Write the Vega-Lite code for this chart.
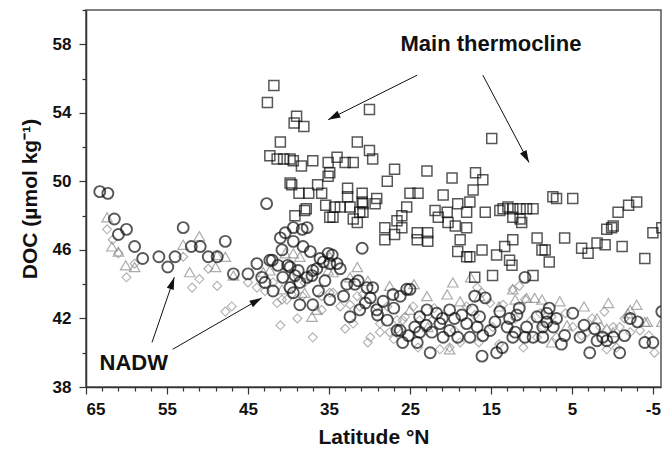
{
  "$schema": "https://vega.github.io/schema/vega-lite/v6.json",
  "width": 575,
  "height": 377,
  "autosize": {"type": "none"},
  "padding": {"left": 86, "top": 10, "right": 3, "bottom": 64},
  "config": {
    "font": "Liberation Sans",
    "view": {"stroke": "#555", "strokeWidth": 1.5},
    "axis": {
      "grid": false,
      "domainColor": "#333",
      "domainWidth": 1.5,
      "tickColor": "#333",
      "tickWidth": 1.2,
      "labelFontSize": 17,
      "labelFontWeight": "bold",
      "labelColor": "#111",
      "titleFontSize": 21,
      "titleFontWeight": "bold",
      "titleColor": "#111"
    }
  },
  "datasets": {
    "squares": [
      {"lat":42.6,"doc":54.6},{"lat":41.8,"doc":55.6},{"lat":41.0,"doc":52.3},{"lat":42.3,"doc":51.5},{"lat":41.4,"doc":51.3},{"lat":40.6,"doc":51.3},{"lat":39.8,"doc":51.3},{"lat":39.4,"doc":51.2},{"lat":39.0,"doc":53.8},{"lat":39.3,"doc":53.4},{"lat":38.1,"doc":53.2},{"lat":38.4,"doc":50.9},{"lat":37.0,"doc":51.2},{"lat":39.8,"doc":49.9},{"lat":39.6,"doc":49.8},{"lat":38.7,"doc":49.3},{"lat":37.5,"doc":49.3},{"lat":36.4,"doc":49.8},{"lat":35.9,"doc":49.3},{"lat":35.1,"doc":51.1},{"lat":39.2,"doc":48.0},{"lat":37.8,"doc":48.4},{"lat":35.1,"doc":50.3},{"lat":35.4,"doc":48.6},{"lat":30.0,"doc":54.2},{"lat":31.5,"doc":52.3},{"lat":30.0,"doc":51.8},{"lat":34.0,"doc":51.4},{"lat":33.0,"doc":51.1},{"lat":32.0,"doc":51.1},{"lat":29.6,"doc":51.3},{"lat":34.9,"doc":50.5},{"lat":32.7,"doc":49.6},{"lat":32.7,"doc":49.1},{"lat":30.9,"doc":49.3},{"lat":30.9,"doc":48.8},{"lat":29.1,"doc":49.0},{"lat":27.8,"doc":50.0},{"lat":34.3,"doc":48.5},{"lat":33.6,"doc":48.5},{"lat":32.4,"doc":48.5},{"lat":31.2,"doc":48.2},{"lat":38.0,"doc":48.3},{"lat":34.9,"doc":47.9},{"lat":31.5,"doc":47.6},{"lat":14.9,"doc":52.5},{"lat":26.9,"doc":50.7},{"lat":22.9,"doc":50.6},{"lat":19.8,"doc":50.2},{"lat":16.9,"doc":50.5},{"lat":16.0,"doc":50.1},{"lat":25.0,"doc":49.3},{"lat":24.0,"doc":49.3},{"lat":20.9,"doc":49.2},{"lat":19.1,"doc":48.7},{"lat":17.6,"doc":48.8},{"lat":17.2,"doc":49.5},{"lat":7.35,"doc":49.1},{"lat":6.9,"doc":49.0},{"lat":4.9,"doc":49.0},{"lat":30.8,"doc":48.7},{"lat":29.3,"doc":48.7},{"lat":34.5,"doc":47.9},{"lat":32.0,"doc":47.8},{"lat":30.8,"doc":48.2},{"lat":25.4,"doc":48.5},{"lat":26.0,"doc":48.0},{"lat":26.6,"doc":47.7},{"lat":21.9,"doc":48.3},{"lat":21.5,"doc":47.9},{"lat":20.4,"doc":48.2},{"lat":20.3,"doc":47.6},{"lat":19.4,"doc":47.4},{"lat":18.0,"doc":48.2},{"lat":28.1,"doc":47.3},{"lat":26.9,"doc":46.9},{"lat":28.1,"doc":46.6},{"lat":26.0,"doc":47.3},{"lat":24.1,"doc":47.0},{"lat":22.8,"doc":47.0},{"lat":24.1,"doc":46.6},{"lat":22.8,"doc":46.5},{"lat":18.8,"doc":46.6},{"lat":17.6,"doc":45.6},{"lat":16.1,"doc":46.0},{"lat":19.1,"doc":45.9},{"lat":18.0,"doc":45.6},{"lat":15.7,"doc":48.2},{"lat":13.5,"doc":48.4},{"lat":12.9,"doc":48.5},{"lat":12.3,"doc":48.4},{"lat":11.4,"doc":48.4},{"lat":10.6,"doc":48.4},{"lat":9.8,"doc":48.4},{"lat":12.3,"doc":47.9},{"lat":11.4,"doc":47.8},{"lat":11.2,"doc":47.6},{"lat":14.3,"doc":45.7},{"lat":12.3,"doc":46.6},{"lat":13.3,"doc":46.2},{"lat":12.4,"doc":45.1},{"lat":17.0,"doc":44.4},{"lat":14.8,"doc":44.5},{"lat":9.8,"doc":44.5},{"lat":9.3,"doc":46.7},{"lat":8.7,"doc":46.0},{"lat":8.3,"doc":46.0},{"lat":7.8,"doc":45.3},{"lat":5.9,"doc":46.7},{"lat":3.8,"doc":46.1},{"lat":3.0,"doc":45.8},{"lat":1.9,"doc":46.4},{"lat":0.9,"doc":46.3},{"lat":0.7,"doc":47.2},{"lat":0.1,"doc":47.3},{"lat":-0.1,"doc":47.4},{"lat":-0.7,"doc":48.2},{"lat":-2.0,"doc":48.6},{"lat":-3.0,"doc":48.8},{"lat":-1.2,"doc":46.2},{"lat":-4.0,"doc":45.5},{"lat":-5.0,"doc":47.0},{"lat":-6.1,"doc":47.3},{"lat":18.0,"doc":47.3},{"lat":12.7,"doc":45.4},{"lat":13.9,"doc":48.3}
    ],
    "circles": [
      {"lat":63.3,"doc":49.4},{"lat":62.3,"doc":49.3},{"lat":61.5,"doc":47.8},{"lat":61.0,"doc":46.9},{"lat":60.0,"doc":47.2},{"lat":59.0,"doc":46.2},{"lat":58.0,"doc":45.5},{"lat":56.0,"doc":45.6},{"lat":54.9,"doc":45.0},{"lat":54.0,"doc":45.6},{"lat":53.0,"doc":47.3},{"lat":52.0,"doc":46.2},{"lat":50.9,"doc":46.2},{"lat":49.9,"doc":45.6},{"lat":48.8,"doc":45.6},{"lat":47.8,"doc":46.5},{"lat":46.8,"doc":44.6},{"lat":45.0,"doc":44.6},{"lat":43.9,"doc":45.2},{"lat":42.9,"doc":44.1},{"lat":42.7,"doc":48.7},{"lat":41.9,"doc":43.6},{"lat":42.0,"doc":45.4},{"lat":41.0,"doc":46.7},{"lat":40.4,"doc":47.0},{"lat":39.4,"doc":47.3},{"lat":39.4,"doc":46.5},{"lat":38.3,"doc":47.2},{"lat":37.7,"doc":47.3},{"lat":37.3,"doc":45.9},{"lat":36.1,"doc":45.5},{"lat":39.8,"doc":45.0},{"lat":38.8,"doc":44.8},{"lat":39.8,"doc":43.8},{"lat":39.4,"doc":43.5},{"lat":38.6,"doc":42.8},{"lat":37.0,"doc":42.8},{"lat":37.7,"doc":44.4},{"lat":36.5,"doc":44.9},{"lat":35.5,"doc":44.2},{"lat":35.1,"doc":45.8},
      {"lat":30.9,"doc":46.1},{"lat":42.3,"doc":45.4},{"lat":41.3,"doc":45.1},{"lat":40.1,"doc":45.1},{"lat":39.2,"doc":44.5},{"lat":34.6,"doc":45.7},{"lat":34.9,"doc":45.2},{"lat":38.6,"doc":44.1},{"lat":37.1,"doc":44.5},{"lat":33.6,"doc":44.9},{"lat":32.8,"doc":44.0},{"lat":31.4,"doc":44.2},{"lat":30.3,"doc":43.8},{"lat":29.6,"doc":43.8},{"lat":29.9,"doc":43.2},{"lat":28.3,"doc":43.0},{"lat":27.1,"doc":43.4},{"lat":25.4,"doc":43.7},{"lat":29.0,"doc":42.2},{"lat":27.8,"doc":41.9},{"lat":32.4,"doc":42.1},{"lat":31.2,"doc":42.5},{"lat":26.6,"doc":41.3},{"lat":25.9,"doc":40.6},{"lat":40.7,"doc":44.4},{"lat":43.3,"doc":44.4},{"lat":37.0,"doc":44.8},
      {"lat":35.7,"doc":45.3},{"lat":34.0,"doc":45.2},{"lat":31.8,"doc":44.0},{"lat":25.0,"doc":43.7},{"lat":22.9,"doc":42.5},{"lat":26.2,"doc":41.3},{"lat":25.2,"doc":41.0},{"lat":23.8,"doc":41.2},{"lat":24.1,"doc":40.6},{"lat":22.5,"doc":40.0},{"lat":29.1,"doc":42.5},{"lat":34.9,"doc":43.1},{"lat":26.2,"doc":43.3},
      {"lat":21.7,"doc":42.3},{"lat":20.1,"doc":42.5},{"lat":18.6,"doc":42.2},{"lat":17.3,"doc":42.5},{"lat":16.4,"doc":42.1},{"lat":15.1,"doc":41.3},{"lat":13.9,"doc":42.4},{"lat":12.7,"doc":42.0},{"lat":11.8,"doc":42.2},{"lat":10.6,"doc":41.5},{"lat":9.3,"doc":42.1},{"lat":8.1,"doc":42.3},{"lat":6.9,"doc":42.0},{"lat":4.9,"doc":42.3},{"lat":24.4,"doc":41.5},{"lat":20.9,"doc":40.9},{"lat":20.1,"doc":41.3},{"lat":19.1,"doc":40.9},{"lat":17.6,"doc":40.9},{"lat":16.1,"doc":39.8},{"lat":14.3,"doc":40.0},{"lat":13.6,"doc":40.3},{"lat":12.3,"doc":40.9},{"lat":10.8,"doc":40.9},{"lat":9.8,"doc":40.9},{"lat":8.6,"doc":40.9},{"lat":7.3,"doc":41.5},{"lat":5.9,"doc":41.0},{"lat":4.0,"doc":40.9},{"lat":2.8,"doc":40.0},{"lat":1.9,"doc":40.7},{"lat":0.7,"doc":40.7},{"lat":-0.1,"doc":40.9},{"lat":-0.9,"doc":40.0},{"lat":-2.2,"doc":42.0},{"lat":-3.1,"doc":41.8},{"lat":-4.0,"doc":40.6},{"lat":-5.0,"doc":40.6},{"lat":-6.1,"doc":42.4},{"lat":17.0,"doc":43.3},{"lat":15.7,"doc":43.2},{"lat":10.8,"doc":44.4},{"lat":16.7,"doc":41.5},{"lat":21.3,"doc":41.7},{"lat":22.3,"doc":41.2},{"lat":18.0,"doc":41.7},{"lat":13.0,"doc":41.5},{"lat":23.8,"doc":42.1},{"lat":8.1,"doc":41.8},{"lat":1.2,"doc":40.9},{"lat":8.6,"doc":41.5},
      {"lat":19.5,"doc":42.0},{"lat":14.5,"doc":41.8},{"lat":11.5,"doc":42.6},{"lat":7.8,"doc":42.6},{"lat":3.5,"doc":41.6},{"lat":2.2,"doc":41.4},{"lat":-1.5,"doc":41.0},{"lat":23.0,"doc":41.6},{"lat":21.0,"doc":42.0},{"lat":16.0,"doc":41.0},{"lat":12.0,"doc":41.2},{"lat":6.3,"doc":40.5},{"lat":27.0,"doc":42.6},{"lat":30.5,"doc":42.9},{"lat":33.2,"doc":43.3},{"lat":36.3,"doc":43.6},{"lat":38.2,"doc":46.2},{"lat":40.8,"doc":46.0}
    ],
    "triangles": [
      {"lat":62.4,"doc":47.9},{"lat":61.8,"doc":46.2},{"lat":61.0,"doc":45.9},{"lat":60.1,"doc":45.1},{"lat":59.0,"doc":45.0},{"lat":53.0,"doc":46.3},{"lat":52.2,"doc":44.7},{"lat":51.0,"doc":46.8},{"lat":48.8,"doc":45.7},{"lat":47.8,"doc":45.6},{"lat":46.8,"doc":44.5},{"lat":40.4,"doc":45.8},{"lat":39.4,"doc":45.8},{"lat":39.6,"doc":44.4},{"lat":38.6,"doc":45.6},{"lat":35.1,"doc":44.8},{"lat":31.5,"doc":45.0},{"lat":32.4,"doc":44.4},{"lat":30.2,"doc":44.2},{"lat":40.8,"doc":43.7},{"lat":37.1,"doc":42.1},{"lat":36.5,"doc":42.5},{"lat":38.0,"doc":43.5},{"lat":42.3,"doc":44.8},{"lat":43.1,"doc":44.7},{"lat":34.5,"doc":44.7},{"lat":22.9,"doc":43.3},{"lat":25.0,"doc":42.5},{"lat":22.8,"doc":41.5},{"lat":19.7,"doc":44.1},{"lat":20.4,"doc":43.4},{"lat":18.8,"doc":43.0},{"lat":16.4,"doc":43.3},{"lat":12.0,"doc":43.1},{"lat":9.6,"doc":43.2},{"lat":1.9,"doc":42.0},{"lat":-2.2,"doc":42.5},{"lat":-4.3,"doc":41.8},{"lat":-6.1,"doc":41.8},{"lat":5.6,"doc":41.6},{"lat":0.7,"doc":41.4},{"lat":-0.1,"doc":41.2},{"lat":20.1,"doc":40.2},{"lat":8.7,"doc":43.1},{"lat":7.5,"doc":40.6},{"lat":49.0,"doc":45.0},{"lat":34.9,"doc":45.6},{"lat":12.3,"doc":43.7},{"lat":10.6,"doc":43.2},{"lat":-1.9,"doc":42.3},{"lat":-4.0,"doc":41.8},
      {"lat":14.0,"doc":42.7},{"lat":6.5,"doc":43.0},{"lat":3.5,"doc":42.7},{"lat":-3.0,"doc":42.8},{"lat":27.5,"doc":43.9},{"lat":24.5,"doc":44.0},{"lat":17.5,"doc":44.4},{"lat":0.5,"doc":42.9}
    ],
    "diamonds": [
      {"lat":62.4,"doc":47.2},{"lat":61.7,"doc":46.6},{"lat":61.0,"doc":45.8},{"lat":60.0,"doc":44.4},{"lat":59.0,"doc":45.2},{"lat":53.0,"doc":45.6},{"lat":51.9,"doc":43.8},{"lat":51.0,"doc":44.3},{"lat":49.9,"doc":44.9},{"lat":48.8,"doc":43.9},{"lat":47.8,"doc":42.4},{"lat":47.0,"doc":42.7},{"lat":45.0,"doc":44.1},{"lat":43.9,"doc":43.8},{"lat":42.9,"doc":43.6},{"lat":41.0,"doc":41.6},{"lat":38.9,"doc":42.0},{"lat":37.0,"doc":40.9},{"lat":41.4,"doc":42.9},{"lat":40.2,"doc":43.1},{"lat":41.9,"doc":44.1},{"lat":40.8,"doc":43.1},{"lat":39.6,"doc":43.4},{"lat":38.0,"doc":44.1},{"lat":33.0,"doc":41.4},{"lat":33.6,"doc":42.7},{"lat":32.4,"doc":42.8},{"lat":34.9,"doc":43.5},{"lat":31.5,"doc":43.3},{"lat":29.1,"doc":42.7},{"lat":27.8,"doc":42.7},{"lat":29.9,"doc":40.9},{"lat":28.7,"doc":41.2},{"lat":26.6,"doc":41.9},{"lat":35.9,"doc":43.3},{"lat":38.3,"doc":43.3},{"lat":30.2,"doc":40.6},{"lat":26.6,"doc":41.4},{"lat":35.9,"doc":42.5},{"lat":31.2,"doc":42.7},{"lat":28.7,"doc":41.7},{"lat":25.9,"doc":41.9},{"lat":32.0,"doc":41.7},{"lat":27.5,"doc":41.2},{"lat":23.8,"doc":41.9},{"lat":34.5,"doc":43.5},{"lat":30.8,"doc":43.4},{"lat":16.1,"doc":43.5},{"lat":15.1,"doc":42.9},{"lat":12.3,"doc":43.7},{"lat":10.8,"doc":43.1},{"lat":8.9,"doc":42.3},{"lat":21.3,"doc":40.2},{"lat":20.1,"doc":40.3},{"lat":18.8,"doc":40.6},{"lat":11.0,"doc":40.3},{"lat":8.6,"doc":41.5},{"lat":6.9,"doc":40.9},{"lat":4.9,"doc":41.5},{"lat":3.1,"doc":41.2},{"lat":1.5,"doc":41.5},{"lat":-0.1,"doc":41.5},{"lat":-2.2,"doc":41.2},{"lat":-3.4,"doc":41.3},{"lat":-5.2,"doc":40.0},{"lat":24.6,"doc":42.7},{"lat":25.6,"doc":42.1},{"lat":18.0,"doc":42.7},{"lat":22.2,"doc":41.9},{"lat":14.8,"doc":41.5},{"lat":9.3,"doc":40.9},{"lat":3.8,"doc":41.0},{"lat":0.7,"doc":40.2},{"lat":-0.9,"doc":41.5},{"lat":-0.5,"doc":40.3},{"lat":16.7,"doc":43.8},{"lat":11.5,"doc":43.9},
      {"lat":22.0,"doc":42.6},{"lat":19.5,"doc":41.3},{"lat":17.0,"doc":42.2},{"lat":13.5,"doc":42.8},{"lat":12.0,"doc":42.0},{"lat":10.0,"doc":41.9},{"lat":7.5,"doc":42.1},{"lat":5.8,"doc":42.3},{"lat":2.5,"doc":42.0},{"lat":1.0,"doc":42.4},{"lat":-1.5,"doc":42.0},{"lat":-4.5,"doc":41.0},{"lat":14.0,"doc":40.5},{"lat":16.5,"doc":40.6},{"lat":27.0,"doc":40.8},{"lat":24.0,"doc":40.3}
    ],
    "labels": [
      {"lat":15.0,"doc":58.0,"text":"Main thermocline"},
      {"lat":59.1,"doc":39.4,"text":"NADW"}
    ],
    "arrows": [
      {"id":"a","lat":24.1,"doc":56.2,"lat2":35.1,"doc2":53.6},
      {"id":"b","lat":16.0,"doc":56.2,"lat2":10.3,"doc2":51.1},
      {"id":"c","lat":56.85,"doc":40.6,"lat2":54.1,"doc2":44.4},
      {"id":"d","lat":54.3,"doc":40.2,"lat2":43.3,"doc2":43.2}
    ]
  },
  "encoding": {
    "x": {
      "field": "lat", "type": "quantitative",
      "scale": {"domain": [65, -6], "nice": false, "zero": false},
      "axis": {
        "title": "Latitude °N",
        "values": [65,63,61,59,57,55,53,51,49,47,45,43,41,39,37,35,33,31,29,27,25,23,21,19,17,15,13,11,9,7,5,3,1,-1,-3,-5],
        "labelExpr": "(65 - datum.value) % 10 == 0 ? ('' + datum.value) : ''",
        "tickSize": {"condition": {"test": "(65 - datum.value) % 10 == 0", "value": 7}, "value": 4},
        "labelPadding": 7,
        "titlePadding": 9
      }
    },
    "y": {
      "field": "doc", "type": "quantitative",
      "scale": {"domain": [38, 60], "nice": false, "zero": false},
      "axis": {
        "title": "DOC (µmol kg⁻¹)",
        "values": [38,40,42,44,46,48,50,52,54,56,58,60],
        "labelExpr": "datum.value % 4 == 2 && datum.value < 60 ? ('' + datum.value) : ''",
        "tickSize": {"condition": {"test": "datum.value % 4 == 2", "value": 7}, "value": 4},
        "labelPadding": 8,
        "titlePadding": 12
      }
    }
  },
  "layer": [
    {"data": {"name": "diamonds"}, "mark": {"type": "point", "shape": "diamond", "size": 81, "filled": false, "stroke": "#8f8f8f", "strokeWidth": 1.1, "clip": true}},
    {"data": {"name": "triangles"}, "mark": {"type": "point", "shape": "triangle-up", "size": 110, "filled": false, "stroke": "#8a8a8a", "strokeWidth": 1.2, "clip": true}},
    {"data": {"name": "circles"}, "mark": {"type": "point", "shape": "circle", "size": 121, "filled": false, "stroke": "#111", "strokeWidth": 1.9, "clip": true}},
    {"data": {"name": "squares"}, "mark": {"type": "point", "shape": "square", "size": 100, "filled": false, "stroke": "#111", "strokeWidth": 1.5, "clip": true}},
    {"data": {"name": "arrows"}, "mark": {"type": "rule", "color": "#111", "strokeWidth": 1},
     "encoding": {"x2": {"field": "lat2"}, "y2": {"field": "doc2"}}},
    {"data": {"name": "arrows"}, "transform": [{"filter": "datum.id == 'a'"}],
     "mark": {"type": "point", "shape": "M0,0L-0.6,2L0.6,2Z", "size": 150, "filled": true, "color": "#111", "opacity": 1, "angle": 243},
     "encoding": {"x": {"field": "lat2", "type": "quantitative"}, "y": {"field": "doc2", "type": "quantitative"}}},
    {"data": {"name": "arrows"}, "transform": [{"filter": "datum.id == 'b'"}],
     "mark": {"type": "point", "shape": "M0,0L-0.6,2L0.6,2Z", "size": 150, "filled": true, "color": "#111", "opacity": 1, "angle": 152},
     "encoding": {"x": {"field": "lat2", "type": "quantitative"}, "y": {"field": "doc2", "type": "quantitative"}}},
    {"data": {"name": "arrows"}, "transform": [{"filter": "datum.id == 'c'"}],
     "mark": {"type": "point", "shape": "M0,0L-0.6,2L0.6,2Z", "size": 150, "filled": true, "color": "#111", "opacity": 1, "angle": 19},
     "encoding": {"x": {"field": "lat2", "type": "quantitative"}, "y": {"field": "doc2", "type": "quantitative"}}},
    {"data": {"name": "arrows"}, "transform": [{"filter": "datum.id == 'd'"}],
     "mark": {"type": "point", "shape": "M0,0L-0.6,2L0.6,2Z", "size": 150, "filled": true, "color": "#111", "opacity": 1, "angle": 60},
     "encoding": {"x": {"field": "lat2", "type": "quantitative"}, "y": {"field": "doc2", "type": "quantitative"}}},
    {"data": {"name": "labels"}, "mark": {"type": "text", "fontSize": 22, "fontWeight": "bold", "color": "#111", "align": "center", "baseline": "middle"},
     "encoding": {"text": {"field": "text"}}}
  ]
}
